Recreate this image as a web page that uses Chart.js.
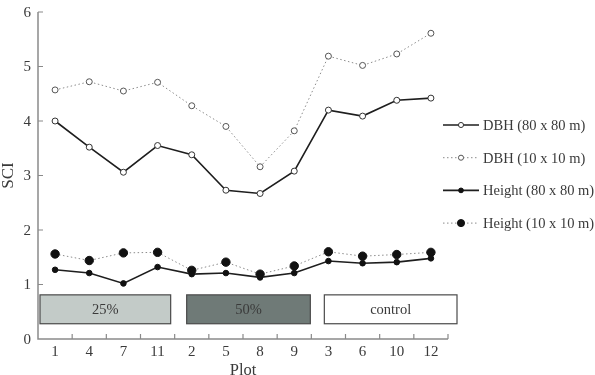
<!DOCTYPE html>
<html>
<head>
<meta charset="utf-8">
<script src="https://cdn.jsdelivr.net/npm/chart.js@4.4.1/dist/chart.umd.min.js"></script>
<style>
  html, body { margin: 0; padding: 0; background: #fff; }
</style>
</head>
<body>
<canvas id="sci" width="595" height="375"></canvas>
<script>
const plots = ['1', '4', '7', '11', '2', '5', '8', '9', '3', '6', '10', '12'];
const dbh80 = [4.00, 3.52, 3.06, 3.55, 3.38, 2.73, 2.67, 3.08, 4.20, 4.09, 4.38, 4.42];
const dbh10 = [4.57, 4.72, 4.55, 4.71, 4.28, 3.90, 3.16, 3.82, 5.19, 5.02, 5.23, 5.61];
const height80 = [1.27, 1.21, 1.02, 1.32, 1.19, 1.21, 1.13, 1.21, 1.43, 1.39, 1.41, 1.48];
const height10 = [1.56, 1.44, 1.58, 1.59, 1.26, 1.41, 1.19, 1.34, 1.60, 1.52, 1.55, 1.59];
const yTicks = [0, 1, 2, 3, 4, 5, 6];
const groups = ['25%', '50%', 'control'];
const groupPlots = [['1', '4', '7', '11'], ['2', '5', '8', '9'], ['3', '6', '10', '12']];

const serif = 'Liberation Serif';
const textColor = '#3a3a3a';
const axisColor = '#8a8a8a';

// treatment boxes under the lines
const groupBoxes = {
    id: 'groupBoxes',
    beforeDatasetsDraw(chart) {
        const ctx = chart.ctx;
        const x = chart.scales.x, y = chart.scales.y;
        const fills = ['#c3cbc8', '#6f7a77', '#ffffff'];
        const inset = [[2, -4], [12, -1], [13, 9]];
        const top = y.getPixelForValue(0.81), bottom = y.getPixelForValue(0.28);
        const half = (x.getPixelForValue(1) - x.getPixelForValue(0)) / 2;
        ctx.save();
        groups.forEach(function(g, i) {
            const first = plots.indexOf(groupPlots[i][0]);
            const last = plots.indexOf(groupPlots[i][groupPlots[i].length - 1]);
            const left = x.getPixelForValue(first) - half + inset[i][0];
            const right = x.getPixelForValue(last) + half + inset[i][1];
            ctx.fillStyle = fills[i];
            ctx.fillRect(left, top, right - left, bottom - top);
            ctx.strokeStyle = '#4a4a4a';
            ctx.lineWidth = 1.2;
            ctx.strokeRect(left, top, right - left, bottom - top);
            ctx.fillStyle = textColor;
            ctx.font = '14.5px "' + serif + '"';
            ctx.textAlign = 'center';
            ctx.textBaseline = 'middle';
            ctx.fillText(g, (left + right) / 2, (top + bottom) / 2 + 1);
        });
        ctx.restore();
    }
};

// axis lines with inward tick marks, y tick labels
const frameAxes = {
    id: 'frameAxes',
    afterDraw(chart) {
        const ctx = chart.ctx;
        const x = chart.scales.x, y = chart.scales.y;
        const a = chart.chartArea;
        const half = (x.getPixelForValue(1) - x.getPixelForValue(0)) / 2;
        ctx.save();
        ctx.strokeStyle = axisColor;
        ctx.lineWidth = 1.5;
        ctx.beginPath();
        ctx.moveTo(a.left, y.getPixelForValue(6));
        ctx.lineTo(a.left, a.bottom);
        ctx.lineTo(a.right, a.bottom);
        ctx.stroke();
        ctx.lineWidth = 1.2;
        ctx.beginPath();
        y.ticks.forEach(function(t) {
            if (t.value === 0) return;
            const py = y.getPixelForValue(t.value);
            ctx.moveTo(a.left, py);
            ctx.lineTo(a.left + 5, py);
        });
        plots.forEach(function(p, i) {
            const px = x.getPixelForValue(i) + half;
            ctx.moveTo(px, a.bottom);
            ctx.lineTo(px, a.bottom - 5);
        });
        ctx.stroke();
        ctx.fillStyle = textColor;
        ctx.font = '15px "' + serif + '"';
        ctx.textAlign = 'right';
        ctx.textBaseline = 'middle';
        y.ticks.forEach(function(t) {
            ctx.fillText(String(t.value), a.left - 7, y.getPixelForValue(t.value) + 1);
        });
        ctx.restore();
    }
};

// legend: line sample with marker, at the right
const sideLegend = {
    id: 'sideLegend',
    afterDraw(chart) {
        const ctx = chart.ctx;
        ctx.save();
        chart.data.datasets.forEach(function(ds, i) {
            const yy = 125 + i * 32.7;
            ctx.strokeStyle = ds.borderColor;
            ctx.lineWidth = ds.borderWidth;
            ctx.setLineDash(ds.borderDash || []);
            ctx.beginPath();
            ctx.moveTo(443, yy);
            ctx.lineTo(479, yy);
            ctx.stroke();
            ctx.setLineDash([]);
            ctx.beginPath();
            ctx.arc(461, yy, ds.pointRadius * 0.85, 0, Math.PI * 2);
            ctx.fillStyle = ds.pointBackgroundColor;
            ctx.fill();
            ctx.strokeStyle = ds.pointBorderColor;
            ctx.lineWidth = ds.pointBorderWidth;
            ctx.stroke();
            ctx.fillStyle = textColor;
            ctx.font = '14.5px "' + serif + '"';
            ctx.textAlign = 'left';
            ctx.textBaseline = 'middle';
            ctx.fillText(ds.label, 483, yy + 1);
        });
        ctx.restore();
    }
};

new Chart(document.getElementById('sci'), {
    type: 'line',
    data: {
        labels: plots,
        datasets: [{
            label: 'DBH (80 x 80 m)',
            data: dbh80,
            borderColor: '#1e1e1e',
            borderWidth: 1.6,
            pointRadius: 3,
            pointBackgroundColor: '#ffffff',
            pointBorderColor: '#333333',
            pointBorderWidth: 1
        }, {
            label: 'DBH (10 x 10 m)',
            data: dbh10,
            borderColor: '#8c8c8c',
            borderWidth: 1,
            borderDash: [1.5, 2.5],
            pointRadius: 3,
            pointBackgroundColor: '#ffffff',
            pointBorderColor: '#555555',
            pointBorderWidth: 1
        }, {
            label: 'Height (80 x 80 m)',
            data: height80,
            borderColor: '#1e1e1e',
            borderWidth: 1.6,
            pointRadius: 2.8,
            pointBackgroundColor: '#111111',
            pointBorderColor: '#111111',
            pointBorderWidth: 1
        }, {
            label: 'Height (10 x 10 m)',
            data: height10,
            borderColor: '#8c8c8c',
            borderWidth: 1,
            borderDash: [1.5, 2.5],
            pointRadius: 4.2,
            pointBackgroundColor: '#111111',
            pointBorderColor: '#111111',
            pointBorderWidth: 1
        }]
    },
    options: {
        responsive: false,
        animation: false,
        devicePixelRatio: 1,
        layout: {
            padding: { top: 12, right: 147, left: 0, bottom: 0 }
        },
        elements: {
            line: { tension: 0 }
        },
        scales: {
            x: {
                offset: true,
                grid: { display: false, drawTicks: false },
                border: { display: false },
                ticks: {
                    color: textColor,
                    padding: 4,
                    font: { family: serif, size: 15 }
                },
                title: {
                    display: true,
                    text: 'Plot',
                    color: textColor,
                    padding: { top: 0, bottom: -6 },
                    font: { family: serif, size: 16.5 }
                },
                afterFit: function(scale) { scale.height = 36; }
            },
            y: {
                min: 0,
                max: 6,
                afterBuildTicks: function(scale) {
                    scale.ticks = yTicks.map(function(v) { return { value: v }; });
                },
                grid: { display: false, drawTicks: false },
                border: { display: false },
                ticks: { display: false },
                title: {
                    display: true,
                    text: 'SCI',
                    color: textColor,
                    padding: { top: -2, bottom: 0 },
                    font: { family: serif, size: 17 }
                },
                afterFit: function(scale) { scale.width = 38; }
            }
        },
        plugins: {
            legend: { display: false },
            tooltip: { enabled: false }
        }
    },
    plugins: [groupBoxes, frameAxes, sideLegend]
});
</script>
</body>
</html>
